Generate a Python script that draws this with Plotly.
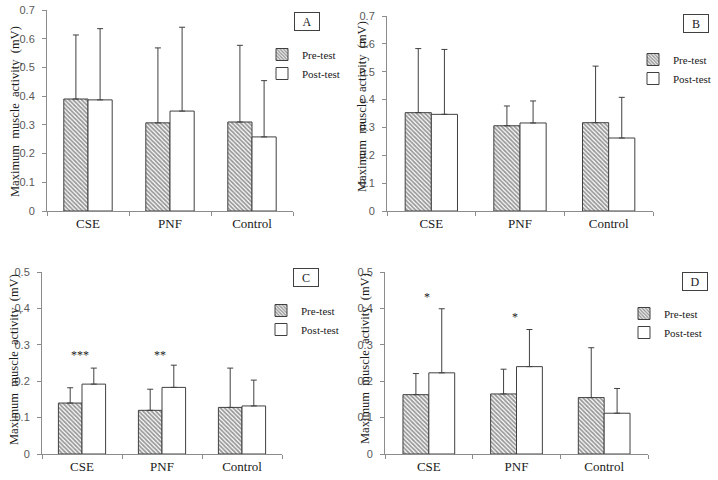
import plotly.graph_objects as go

W, H = 718, 480
categories = ["CSE", "PNF", "Control"]

# Panel A
a_pre = [0.390, 0.307, 0.310]
a_post = [0.387, 0.348, 0.258]
a_pre_err = [0.223, 0.261, 0.267]
a_post_err = [0.248, 0.292, 0.196]
# Panel B
b_pre = [0.353, 0.306, 0.317]
b_post = [0.347, 0.316, 0.262]
b_pre_err = [0.230, 0.071, 0.203]
b_post_err = [0.233, 0.079, 0.146]
# Panel C
c_pre = [0.140, 0.120, 0.128]
c_post = [0.192, 0.183, 0.132]
c_pre_err = [0.042, 0.058, 0.108]
c_post_err = [0.044, 0.061, 0.071]
# Panel D
d_pre = [0.163, 0.165, 0.155]
d_post = [0.223, 0.240, 0.112]
d_pre_err = [0.058, 0.068, 0.137]
d_post_err = [0.176, 0.102, 0.068]

panel_letters = ["A", "B", "C", "D"]
y_max = [0.7, 0.7, 0.5, 0.5]
y_dtick = [0.1, 0.1, 0.1, 0.1]
y_ticklabels = [["0", "0.1", "0.2", "0.3", "0.4", "0.5", "0.6", "0.7"],
                ["0", "0.1", "0.2", "0.3", "0.4", "0.5", "0.6", "0.7"],
                ["0", "0.1", "0.2", "0.3", "0.4", "0.5"],
                ["0", "0.1", "0.2", "0.3", "0.4", "0.5"]]
sig_labels = [None, None, ["***", "**", ""], ["*", "*", ""]]
sig_y = [None, None, [0.272, 0.272, None], [0.431, 0.376, None]]

pre_all = [a_pre, b_pre, c_pre, d_pre]
post_all = [a_post, b_post, c_post, d_post]
pre_err_all = [a_pre_err, b_pre_err, c_pre_err, d_pre_err]
post_err_all = [a_post_err, b_post_err, c_post_err, d_post_err]

# screen-pixel layouts: (x0, x1, ytop, ybottom)
boxes = [(47, 293, 10, 211), (387, 653, 16, 211), (42, 282, 272, 454), (385, 648, 272, 454)]
letter_pos = [(306.5, 22), (696, 23), (306, 277), (695, 281.5)]
legend_pos = [(262, 40), (633, 45), (261, 296), (624, 299)]
title_pos = [(15, 112), (362, 107), (14, 360), (365, 359)]


def px(x):
    return x / W


def py(y):
    return 1 - y / H


serif = "Liberation Serif"
sans = "Liberation Sans"
edge = "#404040"

fig = go.Figure()
for i in range(4):
    sfx = "" if i == 0 else str(i + 1)
    xa, ya = "x" + sfx, "y" + sfx
    lg = "legend" + sfx
    fig.add_trace(go.Bar(
        x=categories, y=pre_all[i], name="Pre-test", xaxis=xa, yaxis=ya, legend=lg,
        marker=dict(color="white", line=dict(color=edge, width=1),
                    pattern=dict(shape="\\", size=3, solidity=0.6, fgcolor="#333333", bgcolor="#ffffff")),
        error_y=dict(type="data", symmetric=False, array=pre_err_all[i], arrayminus=[0] * 3,
                     color=edge, thickness=1, width=3),
    ))
    fig.add_trace(go.Bar(
        x=categories, y=post_all[i], name="Post-test", xaxis=xa, yaxis=ya, legend=lg,
        marker=dict(color="white", line=dict(color=edge, width=1)),
        error_y=dict(type="data", symmetric=False, array=post_err_all[i], arrayminus=[0] * 3,
                     color=edge, thickness=1, width=3),
    ))
    x0, x1, yt, yb = boxes[i]
    fig.layout["xaxis" + sfx] = dict(
        domain=[px(x0), px(x1)], anchor=ya, type="category",
        showline=True, linecolor="#8c8c8c", linewidth=1,
        ticks="outside", tickson="boundaries", ticklen=4, tickcolor="#8c8c8c",
        tickfont=dict(family=serif, size=13, color="#1a1a1a"), showgrid=False,
        automargin=False,
    )
    fig.layout["yaxis" + sfx] = dict(
        domain=[py(yb), py(yt)], anchor=xa, range=[0, y_max[i]],
        tickvals=[k * y_dtick[i] for k in range(len(y_ticklabels[i]))],
        ticktext=y_ticklabels[i],
        showline=True, linecolor="#8c8c8c", linewidth=1,
        ticks="outside", ticklen=4, tickcolor="#8c8c8c", ticklabelstandoff=5,
        tickfont=dict(family=sans, size=11, color="#595959"), showgrid=False, zeroline=False,
        automargin=False,
    )
    lx, ly = legend_pos[i]
    fig.layout[lg] = dict(
        x=px(lx), y=py(ly), xanchor="left", yanchor="top", xref="paper", yref="paper",
        font=dict(family=serif, size=11, color="#1a1a1a"), bgcolor="rgba(0,0,0,0)",
        tracegroupgap=0, itemwidth=30, traceorder="normal",
    )
    cx, cy = letter_pos[i]
    fig.add_annotation(x=px(cx), y=py(cy), xref="paper", yref="paper", text=panel_letters[i],
                       showarrow=False, font=dict(family=serif, size=12, color="#1a1a1a"),
                       bordercolor="#404040", borderwidth=1, width=24, height=17, borderpad=0,
                       xanchor="center", yanchor="middle")
    tx, ty = title_pos[i]
    fig.add_annotation(x=px(tx), y=py(ty), xref="paper", yref="paper",
                       text="Maximum  muscle  activity  (mV)", textangle=-90, showarrow=False,
                       font=dict(family=serif, size=12.5, color="#1a1a1a"),
                       xanchor="center", yanchor="middle")
    if sig_labels[i]:
        for c, lab, sy in zip(categories, sig_labels[i], sig_y[i]):
            if lab:
                fig.add_annotation(x=c, y=sy, xref=xa, yref=ya, text=lab, showarrow=False,
                                   font=dict(family=serif, size=12, color="#1a1a1a"),
                                   xanchor="center", yanchor="middle", xshift=-2)

fig.update_layout(
    width=W, height=H, margin=dict(l=0, r=0, t=0, b=0, autoexpand=False),
    paper_bgcolor="white", plot_bgcolor="white",
    barmode="group", bargap=0.41, bargroupgap=0,
    showlegend=True,
)
fig.write_html("out.html", config={"displayModeBar": False},
               post_script="document.body.style.margin='0px';document.body.style.overflow='hidden';")
